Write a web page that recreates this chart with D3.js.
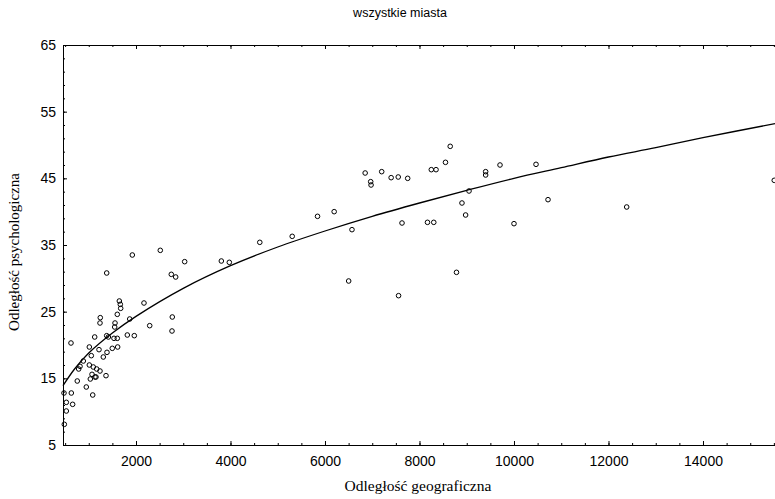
<!DOCTYPE html>
<html><head><meta charset="utf-8">
<script src="https://cdn.jsdelivr.net/npm/d3@7"></script>
<style>body{margin:0;background:#fff}svg{display:block}</style>
</head><body>
<svg id="c" width="775" height="499"></svg>
<script>
const title = "wszystkie miasta";
const xTitle = "Odległość geograficzna";
const yTitle = "Odległość psychologiczna";
const xTicks = [2000,4000,6000,8000,10000,12000,14000];
const yTicks = [5,15,25,35,45,55,65];
const geo = [476,483,525,525,624,631,659,757,787,815,885,948,1012,1012,1033,1054,1069,1084,1096,1126,1132,1153,1168,1217,1238,1238,1244,1308,1365,1380,1380,1386,1415,1498,1534,1549,1556,1604,1604,1612,1647,1668,1676,1816,1867,1922,1964,2169,2290,2514,2747,2762,2768,2840,3030,3806,3975,4620,5306,5842,6194,6501,6571,6850,6967,6975,7200,7400,7557,7550,7630,7750,8169,8250,8302,8350,8550,8650,8783,8899,8976,9048,9400,9400,9704,10000,10466,10720,12385,15508];
const psy = [12.8,8.1,11.4,10.1,20.3,12.8,11.1,14.6,16.4,16.8,17.6,13.7,19.7,17.0,14.9,18.4,15.6,12.5,16.7,21.2,15.2,15.2,16.4,19.3,23.3,16.1,24.1,18.2,15.4,30.8,21.4,18.9,21.2,19.5,21.0,22.7,23.3,21.0,24.6,19.7,26.6,26.1,25.5,21.5,23.9,33.5,21.4,26.3,22.9,34.2,30.6,22.1,24.2,30.2,32.5,32.6,32.4,35.4,36.3,39.3,40.0,29.6,37.3,45.8,44.5,44.0,46.0,45.1,27.4,45.2,38.3,45.0,38.4,46.3,38.4,46.3,47.4,49.8,30.9,41.3,39.5,43.1,46.0,45.5,47.0,38.2,47.1,41.8,40.7,44.7];
const fitX = [455,700,1000,1500,2000,3000,4000,5000,6000,7000,8000,9000,10000,11000,12000,13000,14000,15524];
const fitY = [13.9,16.4,18.8,21.8,24.3,28.5,31.9,34.7,37.1,39.3,41.3,43.2,45.0,46.6,48.2,49.6,51.1,53.2];

const svg = d3.select("#c");
const L = 63, T = 45, R = 775, B = 445;
const x = d3.scaleLinear().domain([455, 15524]).range([L, R]);
const y = d3.scaleLinear().domain([5, 65]).range([B, T]);

const sans = "'Liberation Sans', Arial, sans-serif";
const serif = "'Liberation Serif', 'Times New Roman', serif";

svg.append("text").attr("x", 400).attr("y", 17).attr("text-anchor", "middle")
  .style("font-family", sans).style("font-size", "12.5px").text(title);

// minor ticks
const xMinor = d3.range(500, 15501, 500);
const yMinor = d3.range(5, 65.01, 2);
svg.append("g").attr("transform", `translate(0,${B})`)
  .call(d3.axisBottom(x).tickValues(xMinor).tickFormat("").tickSizeInner(-2).tickSizeOuter(0))
  .call(g => g.select(".domain").remove());
svg.append("g").attr("transform", `translate(0,${T})`)
  .call(d3.axisTop(x).tickValues(xMinor).tickFormat("").tickSizeInner(-2).tickSizeOuter(0))
  .call(g => g.select(".domain").remove());
svg.append("g").attr("transform", `translate(${L},0)`)
  .call(d3.axisLeft(y).tickValues(yMinor).tickFormat("").tickSizeInner(-2).tickSizeOuter(0))
  .call(g => g.select(".domain").remove());

const xa = svg.append("g").attr("transform", `translate(0,${B})`)
  .call(d3.axisBottom(x).tickValues(xTicks).tickFormat(d3.format("d")).tickSizeInner(-4).tickSizeOuter(0).tickPadding(11));
const ya = svg.append("g").attr("transform", `translate(${L},0)`)
  .call(d3.axisLeft(y).tickValues(yTicks).tickSizeInner(-4).tickSizeOuter(0).tickPadding(7));
const ta = svg.append("g").attr("transform", `translate(0,${T})`)
  .call(d3.axisTop(x).tickValues(xTicks).tickFormat("").tickSizeInner(-4).tickSizeOuter(0));
[xa, ya, ta].forEach(g => {
  g.selectAll("text").style("font-family", sans).style("font-size", "14px").attr("fill", "#000");
  g.selectAll("line,path").attr("stroke", "#000");
});
svg.selectAll("g line").attr("stroke", "#000");

svg.append("text").attr("x", 418).attr("y", 491).attr("text-anchor", "middle")
  .style("font-family", serif).style("font-size", "15.5px").text(xTitle);
svg.append("text").attr("transform", "translate(19,252) rotate(-90)").attr("text-anchor", "middle")
  .style("font-family", serif).style("font-size", "15px").text(yTitle);

const line = d3.line().x((d, i) => x(fitX[i])).y((d, i) => y(fitY[i])).curve(d3.curveCatmullRom);
svg.append("path").datum(fitX).attr("d", line).attr("fill", "none")
  .attr("stroke", "#000").attr("stroke-width", 1.3);

svg.append("g").selectAll("circle").data(geo).join("circle")
  .attr("cx", (d) => x(d)).attr("cy", (d, i) => y(psy[i])).attr("r", 2.3)
  .attr("fill", "none").attr("stroke", "#000").attr("stroke-width", 1);
</script>
</body></html>
